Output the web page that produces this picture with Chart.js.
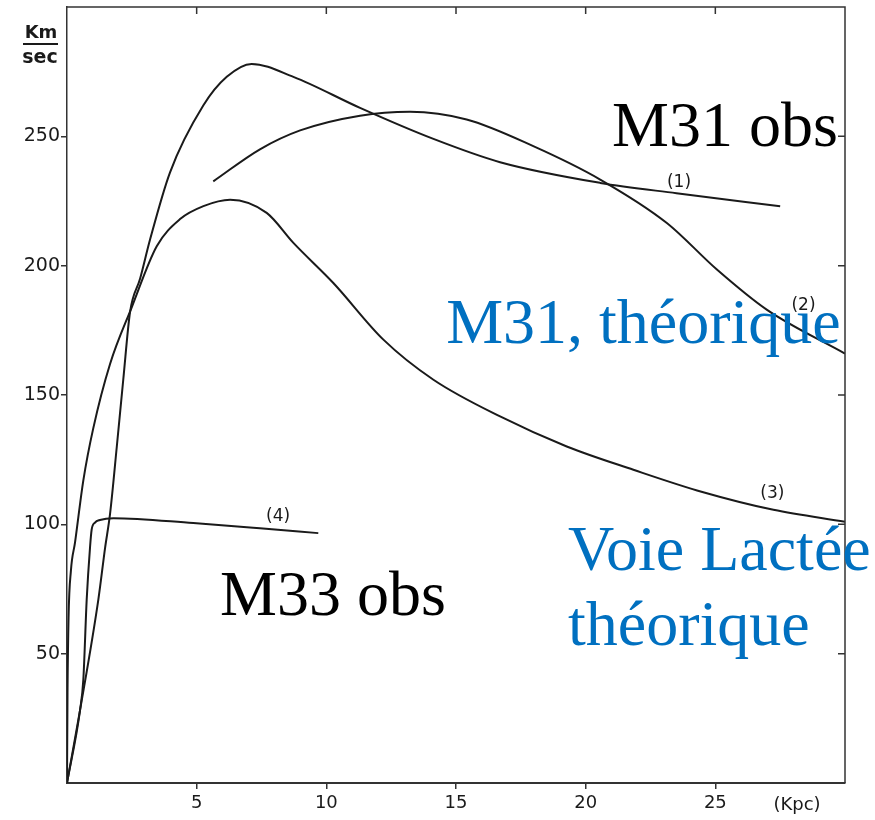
<!DOCTYPE html>
<html>
<head>
<meta charset="utf-8">
<script src="https://cdn.jsdelivr.net/npm/chart.js@4"></script>
<style>
  body { margin: 0; background: #fff; }
  #wrap { width: 875px; height: 820px; position: relative; }
</style>
</head>
<body>
<div id="wrap"><canvas id="rotationChart"></canvas></div>
<script>
// Rotation curves (kpc, km/s)
const m31ObsKpc = [0, 0.5, 1.21, 1.47, 1.66, 1.92, 2.17, 2.43, 2.82, 3.2, 3.97, 5.26, 6.16, 7.12, 8.73, 11.3, 14.13, 16.7, 20.56, 23.5, 27.5];
const m31ObsVel = [0, 28, 71, 91, 104, 130, 156, 182, 195, 210, 236, 262, 273, 278, 273, 261, 249, 240, 232, 228, 223];

const m31TheoKpc = [5.64, 7.44, 8.99, 11.3, 13.23, 15.41, 17.98, 20.56, 23.13, 25.06, 26.98, 30];
const m31TheoVel = [232.6, 245, 252.3, 258, 259.5, 256.5, 246.2, 233.3, 216.5, 198.5, 183, 166];

const mwTheoKpc = [0, 0.02, 0.06, 0.15, 0.31, 0.63, 1.01, 1.66, 2.5, 3.46, 4.36, 5.26, 6.29, 7.7, 8.73, 10.27, 12.2, 14.13, 16.7, 19.27, 21.84, 24.5, 27.24, 30];
const mwTheoVel = [0, 35, 64, 82, 93, 117, 137, 162, 184, 207.5, 218, 223, 225.5, 220.4, 208.8, 193.3, 171.4, 155.9, 141.7, 130.1, 121.1, 112.5, 105.6, 101];

const m33ObsKpc = [0, 0.5, 0.63, 0.76, 0.89, 0.95, 1.08, 1.27, 1.79, 4.87, 7.44, 9.69];
const m33ObsVel = [0, 28, 40, 71, 91.4, 97.9, 100.7, 101.7, 102.4, 100.5, 98.5, 96.6];

const kpcTicks = [5, 10, 15, 20, 25];
const velTicks = [50, 100, 150, 200, 250];

const curveTags = ['(1)', '(2)', '(3)', '(4)'];

function toPoints(xs, ys) {
  return xs.map((x, i) => ({ x, y: ys[i] }));
}

// text labels placed in data units
const tagSpots = [
  { text: '(1)', x: 23.6, y: 232 },
  { text: '(2)', x: 28.4, y: 184.6 },
  { text: '(3)', x: 27.2, y: 112 },
  { text: '(4)', x: 8.14, y: 102.9 }
];
const bigLabels = [
  { text: 'M31 obs', x: 21.02, y: 246.4, color: '#000' },
  { text: 'M31, théorique', x: 14.62, y: 170.2, color: '#0070C0' },
  { text: 'Voie Lactée', x: 19.32, y: 82.4, color: '#0070C0' },
  { text: 'théorique', x: 19.32, y: 53.4, color: '#0070C0' },
  { text: 'M33 obs', x: 5.9, y: 65.0, color: '#000' }
];

const frameAndText = {
  id: 'frameAndText',
  afterDraw(chart) {
    const { ctx, chartArea: a, scales: { x, y } } = chart;
    ctx.save();

    // top + right frame with inward ticks
    ctx.strokeStyle = '#333';
    ctx.lineWidth = 1.5;
    ctx.beginPath();
    ctx.moveTo(a.left, a.top);
    ctx.lineTo(a.right, a.top);
    ctx.lineTo(a.right, a.bottom);
    ctx.stroke();
    ctx.beginPath();
    kpcTicks.forEach(v => {
      const px = x.getPixelForValue(v);
      ctx.moveTo(px, a.top);
      ctx.lineTo(px, a.top + 7);
    });
    velTicks.forEach(v => {
      const py = y.getPixelForValue(v);
      ctx.moveTo(a.right, py);
      ctx.lineTo(a.right - 7, py);
    });
    ctx.stroke();

    // unit labels
    ctx.fillStyle = '#1a1a1a';
    ctx.font = 'bold 18px "DejaVu Sans"';
    ctx.textAlign = 'center';
    ctx.textBaseline = 'alphabetic';
    ctx.fillText('Km', 41, 38);
    ctx.font = 'bold 19px "DejaVu Sans"';
    ctx.fillText('sec', 40, 63);
    ctx.fillRect(23, 43, 35, 2);

    ctx.font = '18px "DejaVu Sans"';
    ctx.textBaseline = 'middle';
    ctx.fillText('(Kpc)', x.getPixelForValue(28.15), a.bottom + 22);

    // curve tags
    ctx.font = '17px "DejaVu Sans"';
    tagSpots.forEach(t => {
      ctx.fillText(t.text, x.getPixelForValue(t.x), y.getPixelForValue(t.y));
    });

    // big annotations
    ctx.font = '64px "Liberation Serif"';
    ctx.textAlign = 'left';
    ctx.textBaseline = 'alphabetic';
    bigLabels.forEach(l => {
      ctx.fillStyle = l.color;
      ctx.fillText(l.text, x.getPixelForValue(l.x), y.getPixelForValue(l.y));
    });
    ctx.restore();
  }
};

const lineStyle = {
  showLine: true,
  pointRadius: 0,
  borderColor: '#1a1a1a',
  borderWidth: 2,
  cubicInterpolationMode: 'monotone',
  fill: false
};

const hideEnds = ctx => (ctx.tick && (ctx.tick.value === 0 || ctx.tick.value === 30 || ctx.tick.value === 300)) ? 'rgba(0,0,0,0)' : '#333';

new Chart(document.getElementById('rotationChart'), {
  type: 'scatter',
  data: {
    datasets: [
      { label: curveTags[0], data: toPoints(m31ObsKpc, m31ObsVel), ...lineStyle },
      { label: curveTags[1], data: toPoints(m31TheoKpc, m31TheoVel), ...lineStyle },
      { label: curveTags[2], data: toPoints(mwTheoKpc, mwTheoVel), ...lineStyle },
      { label: curveTags[3], data: toPoints(m33ObsKpc, m33ObsVel), ...lineStyle }
    ]
  },
  options: {
    responsive: true,
    maintainAspectRatio: false,
    animation: false,
    layout: { padding: { top: 7, right: 30, left: 0, bottom: 0 } },
    plugins: {
      legend: { display: false },
      tooltip: { enabled: false }
    },
    scales: {
      x: {
        type: 'linear',
        min: 0,
        max: 30,
        afterFit: s => { s.height = 37; s.paddingLeft = 0; s.paddingRight = 0; },
        border: { color: '#333', width: 2 },
        grid: { drawOnChartArea: false, tickLength: 6, color: hideEnds, lineWidth: 1.5 },
        ticks: {
          stepSize: 5,
          color: '#1a1a1a',
          font: { family: 'DejaVu Sans', size: 18 },
          padding: 4,
          maxRotation: 0,
          callback: v => kpcTicks.includes(v) ? String(v) : ''
        }
      },
      y: {
        type: 'linear',
        min: 0,
        max: 300,
        afterFit: s => { s.width = 67; s.paddingTop = 0; s.paddingBottom = 0; },
        border: { color: '#333', width: 1.5 },
        grid: { drawOnChartArea: false, tickLength: 6, color: hideEnds, lineWidth: 1.5 },
        ticks: {
          stepSize: 50,
          color: '#1a1a1a',
          font: { family: 'DejaVu Sans', size: 19 },
          padding: 1,
          callback: v => velTicks.includes(v) ? String(v) : ''
        }
      }
    }
  },
  plugins: [frameAndText]
});
</script>
</body>
</html>
